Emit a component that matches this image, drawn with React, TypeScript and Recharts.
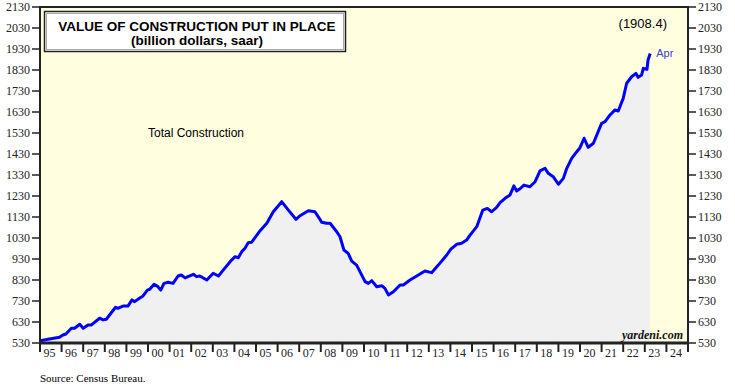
import React from 'react';
import { ComposedChart, Area, XAxis, YAxis, CartesianGrid, ReferenceArea, ReferenceDot } from 'recharts';

// decimal-year positions of points
const dates = [
  1995.0, 1995.37, 1995.9, 1996.06, 1996.2, 1996.45, 1996.6, 1996.84, 1997.0, 1997.22,
  1997.38, 1997.76, 1997.92, 1998.07, 1998.3, 1998.5, 1998.6, 1998.84, 1999.07, 1999.26,
  1999.38, 1999.6, 1999.77, 1999.97, 2000.08, 2000.28, 2000.43, 2000.59, 2000.74, 2000.93,
  2001.16, 2001.39, 2001.54, 2001.72, 2001.85, 2002.1, 2002.25, 2002.4, 2002.72, 2003.02,
  2003.26, 2003.49, 2003.87, 2004.03, 2004.18, 2004.34, 2004.49, 2004.64, 2004.8, 2005.19,
  2005.5, 2005.8, 2006.19, 2006.5, 2006.85, 2007.04, 2007.42, 2007.73, 2007.96, 2008.04,
  2008.27, 2008.43, 2008.74, 2008.89, 2009.07, 2009.27, 2009.43, 2009.66, 2010.05, 2010.2,
  2010.36, 2010.59, 2010.82, 2010.97, 2011.13, 2011.36, 2011.67, 2011.82, 2012.13, 2012.44,
  2012.82, 2013.13, 2013.44, 2013.83, 2014.02, 2014.29, 2014.52, 2014.75, 2014.91, 2015.22,
  2015.5, 2015.71, 2015.91, 2016.14, 2016.3, 2016.53, 2016.76, 2016.94, 2017.07, 2017.25,
  2017.4, 2017.68, 2017.92, 2018.15, 2018.38, 2018.53, 2018.76, 2019.0, 2019.23, 2019.38,
  2019.62, 2019.85, 2020.0, 2020.19, 2020.38, 2020.62, 2021.0, 2021.16, 2021.39, 2021.62,
  2021.77, 2022.0, 2022.16, 2022.39, 2022.59, 2022.69, 2022.85, 2022.93, 2023.1, 2023.15,
  2023.25,
];

// total construction, billion dollars, saar
const values = [
  541, 548, 557, 568, 573, 600, 600, 619, 600, 616,
  616, 648, 640, 643, 674, 700, 695, 706, 706, 735,
  727, 743, 754, 782, 786, 810, 801, 782, 814, 819,
  814, 849, 854, 840, 846, 857, 846, 849, 830, 862,
  849, 878, 925, 941, 936, 965, 981, 1008, 1010, 1065,
  1100, 1155, 1203, 1163, 1119, 1136, 1160, 1155, 1119, 1105,
  1100, 1100, 1060, 1036, 973, 957, 920, 901, 822, 814,
  827, 798, 803, 790, 759, 774, 806, 806, 830, 849,
  873, 865, 901, 949, 977, 1000, 1005, 1020, 1044, 1084,
  1163, 1171, 1155, 1176, 1198, 1219, 1235, 1278, 1254, 1267,
  1282, 1274, 1298, 1350, 1362, 1338, 1322, 1286, 1314, 1360,
  1410, 1441, 1460, 1505, 1462, 1481, 1576, 1584, 1616, 1640,
  1635, 1695, 1767, 1798, 1814, 1795, 1806, 1838, 1833, 1878,
  1908.4,
];

const lastMonthLabel = 'Apr';

const yTicks = [530, 630, 730, 830, 930, 1030, 1130, 1230, 1330, 1430, 1530, 1630, 1730, 1830, 1930, 2030, 2130];

const yearTicks = [
  1995, 1996, 1997, 1998, 1999, 2000, 2001, 2002, 2003, 2004, 2005, 2006, 2007, 2008, 2009,
  2010, 2011, 2012, 2013, 2014, 2015, 2016, 2017, 2018, 2019, 2020, 2021, 2022, 2023, 2024, 2025,
];
const yearLabels = [
  '95', '96', '97', '98', '99', '00', '01', '02', '03', '04', '05', '06', '07', '08', '09',
  '10', '11', '12', '13', '14', '15', '16', '17', '18', '19', '20', '21', '22', '23', '24',
];

const data = dates.map((t, i) => ({ t, v: values[i] }));
const lastPoint = data[data.length - 1];

const SERIF = '"Liberation Serif", "Times New Roman", serif';
const SANS = '"Liberation Sans", Arial, sans-serif';

const YearTick = (props: any) => {
  const { x, y, payload } = props;
  const idx = yearTicks.indexOf(payload.value);
  const label = yearLabels[idx];
  if (!label) return null;
  return (
    <text x={x + 9.5} y={y + 3} textAnchor="middle" fontSize={12} fontFamily={SERIF} fill="#222">
      {label}
    </text>
  );
};

const AprLabel = (props: any) => {
  const { viewBox } = props;
  return (
    <text x={viewBox.x + 6} y={viewBox.y + 3} fontSize={11} fontFamily={SANS} fill="#4040d0">
      {lastMonthLabel}
    </text>
  );
};

export default function App() {
  return (
    <div style={{ position: 'absolute', left: 0, top: 0, width: 735, height: 386, background: '#fff' }}>
      <ComposedChart
        width={735}
        height={386}
        data={data}
        margin={{ top: 7, right: 0, bottom: 23, left: 0 }}
      >
        <CartesianGrid horizontal={false} vertical={false} fill="#ffffe0" stroke="none" />
        <XAxis
          dataKey="t"
          type="number"
          domain={[1995, 2025]}
          ticks={yearTicks}
          interval={0}
          height={20}
          tickSize={9}
          tick={<YearTick />}
          axisLine={{ stroke: '#222', strokeWidth: 3 }}
          tickLine={{ stroke: '#222', strokeWidth: 2 }}
          allowDataOverflow
        />
        <YAxis
          yAxisId="left"
          domain={[530, 2130]}
          ticks={yTicks}
          interval={0}
          width={40}
          tickSize={8}
          tick={{ fontSize: 12, fontFamily: SERIF, fill: '#222' }}
          axisLine={{ stroke: '#222', strokeWidth: 2 }}
          tickLine={{ stroke: '#222', strokeWidth: 1.5 }}
          allowDataOverflow
        />
        <YAxis
          yAxisId="right"
          orientation="right"
          domain={[530, 2130]}
          ticks={yTicks}
          interval={0}
          width={47}
          tickSize={8}
          tick={{ fontSize: 12, fontFamily: SERIF, fill: '#222' }}
          axisLine={{ stroke: '#222', strokeWidth: 2 }}
          tickLine={{ stroke: '#222', strokeWidth: 1.5 }}
          allowDataOverflow
        />
        <Area
          yAxisId="left"
          dataKey="v"
          type="linear"
          stroke="#0000ff"
          strokeWidth={3}
          fill="#f0f0f0"
          fillOpacity={1}
          baseValue={530}
          isAnimationActive={false}
          dot={false}
          activeDot={false}
          strokeLinejoin="round"
        />
        <ReferenceArea
          yAxisId="left"
          x1={1995}
          x2={2025}
          y1={530}
          y2={2130}
          fill="none"
          stroke="#222"
          strokeWidth={2}
        />
        <ReferenceDot
          yAxisId="left"
          x={lastPoint.t}
          y={lastPoint.v}
          r={0}
          stroke="none"
          fill="none"
          label={<AprLabel />}
        />
      </ComposedChart>
      <svg
        width={735}
        height={386}
        style={{ position: 'absolute', left: 0, top: 0, pointerEvents: 'none' }}
      >
        <rect x={44.5} y={11.5} width={301} height={40} fill="#fff" stroke="#222" strokeWidth={1.5} />
        <rect x={46.5} y={13.5} width={297} height={36} fill="none" stroke="#aaa" strokeWidth={1} />
        <text x={197} y={31} textAnchor="middle" fontSize={13.5} fontWeight="bold" fontFamily={SANS} fill="#000">
          VALUE OF CONSTRUCTION PUT IN PLACE
        </text>
        <text x={197} y={45} textAnchor="middle" fontSize={13.5} fontWeight="bold" fontFamily={SANS} fill="#000">
          (billion dollars, saar)
        </text>
        <text x={148} y={137} fontSize={12} fontFamily={SANS} fill="#000">
          Total Construction
        </text>
        <text x={667} y={28} textAnchor="end" fontSize={13} fontFamily={SANS} fill="#000">
          ({lastPoint.v.toFixed(1)})
        </text>
        <text x={683} y={339} textAnchor="end" fontSize={12} fontStyle="italic" fontWeight="bold" fontFamily={SERIF} fill="#111">
          yardeni.com
        </text>
        <text x={40} y={382} fontSize={11} fontFamily={SERIF} fill="#000">
          Source: Census Bureau.
        </text>
      </svg>
    </div>
  );
}
